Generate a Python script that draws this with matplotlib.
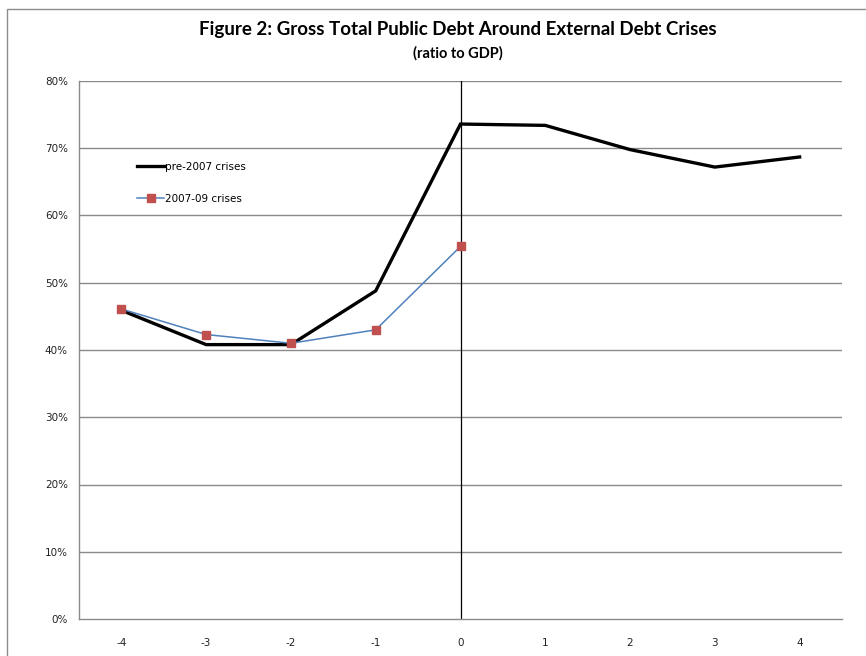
import matplotlib.pyplot as plt
from matplotlib.lines import Line2D
from matplotlib.patches import Rectangle

years = ['-4', '-3', '-2', '-1', '0', '1', '2', '3', '4']
pre_2007 = [45.9, 40.8, 40.8, 48.8, 73.6, 73.4, 69.8, 67.2, 68.7]
crises_2007_09 = [46.1, 42.3, 41.0, 43.0, 55.4]
y_ticks = [0, 10, 20, 30, 40, 50, 60, 70, 80]

W, H = 866, 656
fig = plt.figure(figsize=(W / 100, H / 100), dpi=100)
plt.rcParams['font.family'] = ['DejaVu Sans']

# chart area border (only left and top are inside the picture)
fig.add_artist(Rectangle((7 / W, -0.1), 1.2, (H - 9) / H + 0.1, transform=fig.transFigure,
                         fill=False, edgecolor='#8c8c8c', linewidth=1.0))

ax = fig.add_axes([79 / W, 37 / H, (842 - 79) / W, (619 - 81) / H])
x = list(range(len(years)))

for t in y_ticks[1:]:
    ax.axhline(t, color='#8a8a8a', linewidth=1.0, zorder=1)
ax.axvline(4, color='black', linewidth=0.9, zorder=2)

ax.plot(x, pre_2007, color='black', linewidth=2.4, solid_joinstyle='miter', zorder=3,
        label='pre-2007 crises')
ax.plot(x[:len(crises_2007_09)], crises_2007_09, color='#4f81bd', linewidth=1.1,
        marker='s', markersize=5.5, markerfacecolor='#c0504d', markeredgecolor='#c0504d',
        zorder=4, label='2007-09 crises')

ax.set_xlim(-0.5, 8.5)
ax.set_ylim(0, 80)
ax.set_xticks(x)
ax.set_xticklabels(years)
ax.set_yticks(y_ticks)
ax.set_yticklabels([f'{t}%' for t in y_ticks])
ax.tick_params(length=0, labelsize=7.5, colors='#222222')
ax.tick_params(axis='x', pad=14)
ax.tick_params(axis='y', pad=8)
for side in ['top', 'right']:
    ax.spines[side].set_visible(False)
for side in ['left', 'bottom']:
    ax.spines[side].set_color('#8a8a8a')
    ax.spines[side].set_linewidth(1.0)

handles = [Line2D([], [], color='black', linewidth=2.4),
           Line2D([], [], color='#4f81bd', linewidth=1.1, marker='s', markersize=5.5,
                  markerfacecolor='#c0504d', markeredgecolor='#c0504d')]
fig.legend(handles, ['pre-2007 crises', '2007-09 crises'], loc='upper left',
           bbox_to_anchor=(137 / W, 1 - 162 / H), frameon=False, fontsize=7.5,
           handlelength=2.6, handletextpad=0.05, labelspacing=2.1,
           borderpad=0, borderaxespad=0)

fig.text(458 / W, 1 - 30 / H, 'Figure 2: Gross Total Public Debt Around External Debt Crises',
         ha='center', va='center', fontsize=13.5, fontweight='bold', family='Lato')
fig.text(458 / W, 1 - 53 / H, '(ratio to GDP)', ha='center', va='center',
         fontsize=10.5, fontweight='bold', family='Lato')

fig.savefig('out.png', dpi=100)
